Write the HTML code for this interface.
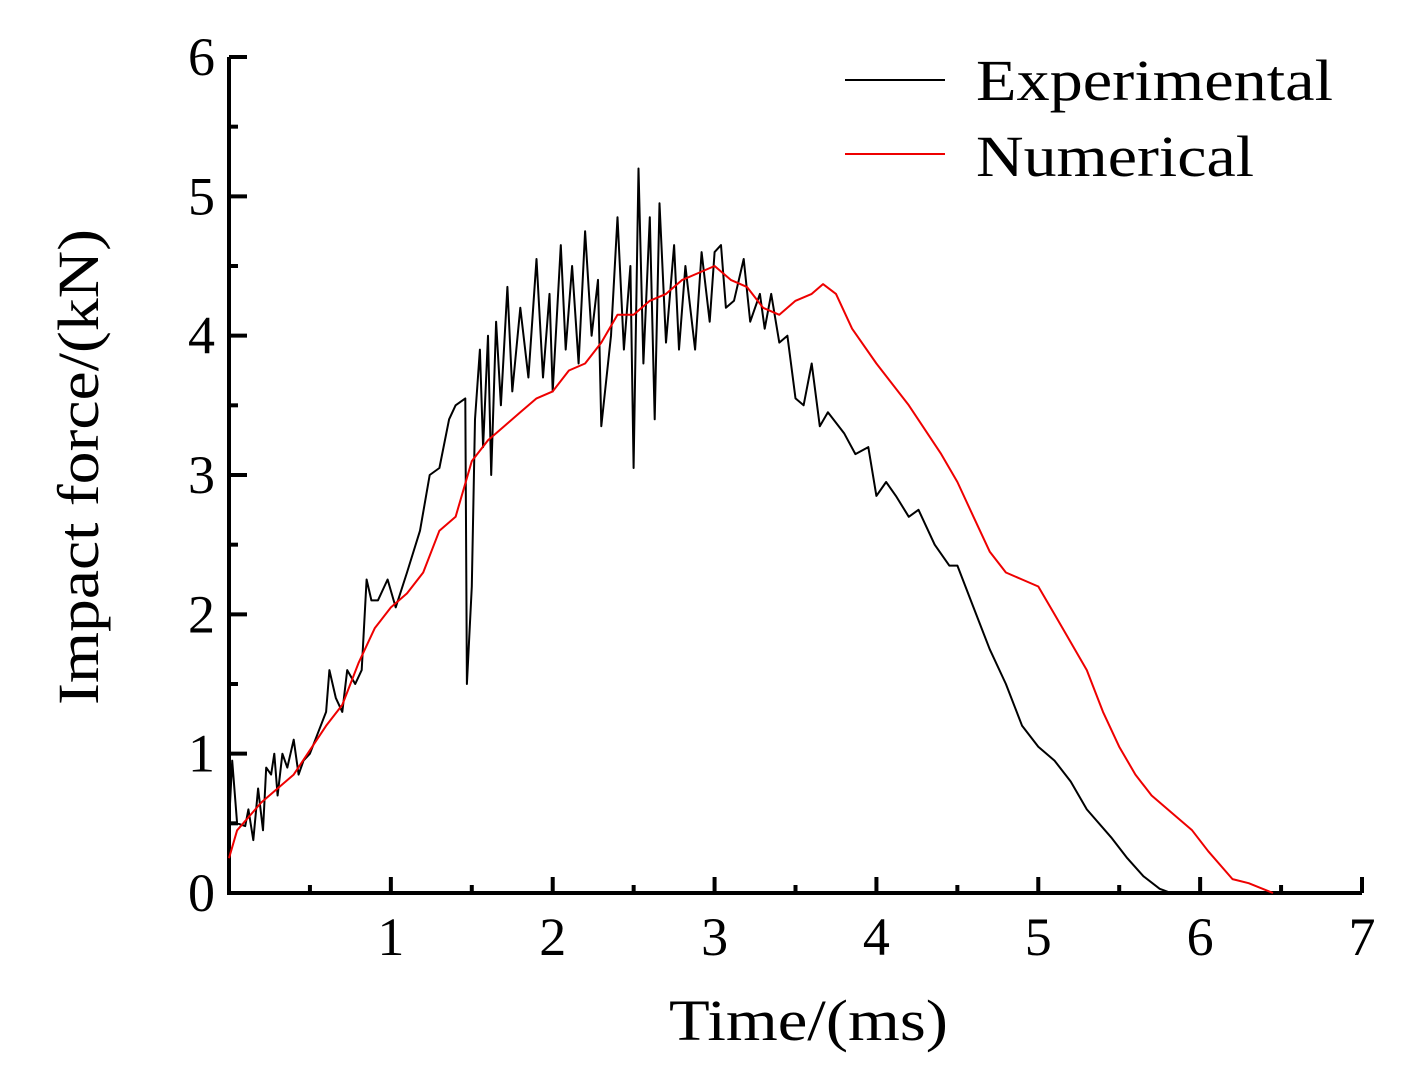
<!DOCTYPE html>
<html><head><meta charset="utf-8"><style>
html,body{margin:0;padding:0;background:#fff;}
svg text{font-family:"Liberation Serif",serif;fill:#000;}
</style></head><body>
<svg id="chart" width="1405" height="1077" viewBox="0 0 1405 1077" xmlns="http://www.w3.org/2000/svg">
<g id="axes"></g>
<g id="series"></g>
<text x="669" y="1040" font-size="58" textLength="279" lengthAdjust="spacingAndGlyphs">Time/(ms)</text>
<text transform="translate(98,705) rotate(-90)" font-size="58" textLength="476" lengthAdjust="spacingAndGlyphs">Impact force/(kN)</text>
<g>
<line x1="845" y1="80" x2="945" y2="80" stroke="#000" stroke-width="2"/>
<text x="976" y="100" font-size="58" textLength="357" lengthAdjust="spacingAndGlyphs">Experimental</text>
<line x1="845" y1="154" x2="945" y2="154" stroke="#e00" stroke-width="2"/>
<text x="976" y="176" font-size="58" textLength="278" lengthAdjust="spacingAndGlyphs">Numerical</text>
</g>
</svg>
<script>
const xTicks = [1,2,3,4,5,6,7];
const yTicks = [0,1,2,3,4,5,6];
const expT = [0,0.02,0.05,0.1,0.12,0.15,0.18,0.21,0.23,0.26,0.28,0.3,0.33,0.36,0.4,0.43,0.46,0.5,0.55,0.6,0.62,0.66,0.7,0.73,0.78,0.82,0.85,0.88,0.92,0.98,1.03,1.1,1.18,1.24,1.3,1.36,1.4,1.46,1.47,1.5,1.52,1.55,1.57,1.6,1.62,1.65,1.68,1.72,1.75,1.8,1.85,1.9,1.94,1.98,2.0,2.05,2.08,2.12,2.16,2.2,2.24,2.28,2.3,2.36,2.4,2.44,2.48,2.5,2.53,2.56,2.6,2.63,2.66,2.7,2.75,2.78,2.82,2.88,2.92,2.97,3.0,3.04,3.07,3.12,3.18,3.22,3.28,3.31,3.35,3.4,3.45,3.5,3.55,3.6,3.65,3.7,3.8,3.87,3.95,4.0,4.06,4.12,4.2,4.26,4.3,4.36,4.45,4.5,4.6,4.7,4.8,4.9,5.0,5.1,5.2,5.3,5.45,5.55,5.65,5.75,5.82];
const expF = [0.5,0.95,0.5,0.48,0.6,0.38,0.75,0.45,0.9,0.85,1.0,0.7,1.0,0.9,1.1,0.85,0.95,1.0,1.15,1.3,1.6,1.4,1.3,1.6,1.5,1.6,2.25,2.1,2.1,2.25,2.05,2.3,2.6,3.0,3.05,3.4,3.5,3.55,1.5,2.2,3.4,3.9,3.2,4.0,3.0,4.1,3.5,4.35,3.6,4.2,3.7,4.55,3.7,4.3,3.6,4.65,3.9,4.5,3.8,4.75,4.0,4.4,3.35,4.0,4.85,3.9,4.5,3.05,5.2,3.8,4.85,3.4,4.95,3.95,4.65,3.9,4.5,3.9,4.6,4.1,4.6,4.65,4.2,4.25,4.55,4.1,4.3,4.05,4.3,3.95,4.0,3.55,3.5,3.8,3.35,3.45,3.3,3.15,3.2,2.85,2.95,2.85,2.7,2.75,2.65,2.5,2.35,2.35,2.05,1.75,1.5,1.2,1.05,0.95,0.8,0.6,0.4,0.25,0.12,0.03,0];
const numT = [0,0.05,0.2,0.4,0.6,0.7,0.8,0.9,1.0,1.1,1.2,1.3,1.4,1.5,1.6,1.7,1.8,1.9,2.0,2.1,2.2,2.3,2.4,2.5,2.6,2.7,2.8,2.9,3.0,3.1,3.2,3.3,3.4,3.5,3.6,3.67,3.75,3.85,4.0,4.2,4.4,4.5,4.6,4.7,4.8,4.9,5.0,5.1,5.2,5.3,5.4,5.5,5.6,5.7,5.85,5.95,6.05,6.2,6.3,6.45];
const numF = [0.25,0.45,0.65,0.85,1.2,1.35,1.65,1.9,2.05,2.15,2.3,2.6,2.7,3.1,3.25,3.35,3.45,3.55,3.6,3.75,3.8,3.95,4.15,4.15,4.25,4.3,4.4,4.45,4.5,4.4,4.35,4.2,4.15,4.25,4.3,4.37,4.3,4.05,3.8,3.5,3.15,2.95,2.7,2.45,2.3,2.25,2.2,2.0,1.8,1.6,1.3,1.05,0.85,0.7,0.55,0.45,0.3,0.1,0.07,0];

const X0=229, X1=1362, Y0=893, Y1=57;
const sx = t => X0 + t*(X1-X0)/7;
const sy = f => Y0 - f*(Y0-Y1)/6;
const NS='http://www.w3.org/2000/svg';
const axes=document.getElementById('axes');
const series=document.getElementById('series');
function mk(tag,attrs,parent){const e=document.createElementNS(NS,tag);for(const k in attrs)e.setAttribute(k,attrs[k]);parent.appendChild(e);return e;}

let ax=mk('path',{d:`M${X0},${Y1} V${Y0} H${X1}`,fill:'none',stroke:'#000','stroke-width':4},axes);



for(let i=0;i<=14;i++){
  const t=i/2; if(t===0) continue;
  const major=Number.isInteger(t);
  const tk=mk('line',{x1:sx(t),x2:sx(t),y1:Y0,y2:Y0-(major?16:8),stroke:'#000','stroke-width':4},axes);
  
  
}
for(let i=0;i<=12;i++){
  const f=i/2;
  const major=Number.isInteger(f);
  const tk=mk('line',{x1:X0,x2:X0+(major?18:9),y1:sy(f),y2:sy(f),stroke:'#000','stroke-width':4},axes);
  
  
}
xTicks.forEach(v=>{
  const t=mk('text',{x:sx(v),y:955,'font-size':54,'text-anchor':'middle'},axes);
  t.textContent=v;
  
  
});
yTicks.forEach(v=>{
  const t=mk('text',{x:215,y:sy(v)+18,'font-size':54,'text-anchor':'end'},axes);
  t.textContent=v;
  
  
});
function line(ts,fs,color,name){
  const d=ts.map((t,i)=>(i?'L':'M')+sx(t).toFixed(1)+','+sy(fs[i]).toFixed(1)).join(' ');
  const p=mk('path',{d,fill:'none',stroke:color,'stroke-width':2,'stroke-linejoin':'round'},series);
  
  
}
line(expT,expF,'#000','experimental-line');
line(numT,numF,'#e00','numerical-line');
</script>
</body></html>
